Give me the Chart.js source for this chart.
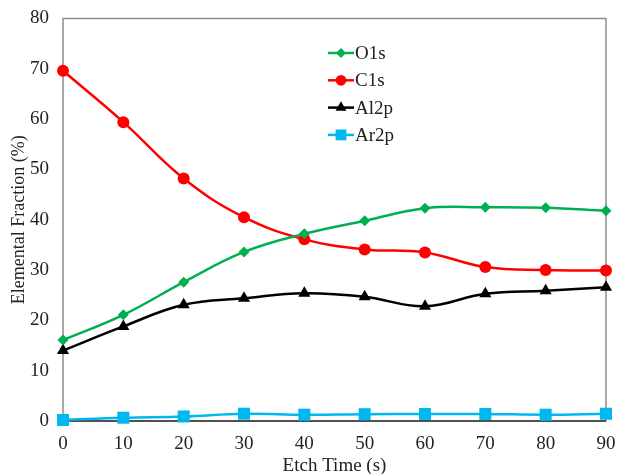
<!DOCTYPE html>
<html>
<head>
<meta charset="utf-8">
<script src="https://cdn.jsdelivr.net/npm/chart.js@4.4.1/dist/chart.umd.min.js"></script>
<style>
  html, body { margin: 0; padding: 0; background: #fff; }
  #wrap { width: 617px; height: 474px; }
</style>
</head>
<body>
<div id="wrap"><canvas id="xps"></canvas></div>
<script>
const etchTime = [0, 10, 20, 30, 40, 50, 60, 70, 80, 90];
const o1s  = [16.1, 21.1, 27.6, 33.6, 37.2, 39.8, 42.3, 42.5, 42.4, 41.8];
const c1s  = [69.6, 59.4, 48.2, 40.5, 36.1, 34.1, 33.5, 30.6, 30.0, 29.9];
const al2p = [14.0, 18.8, 23.1, 24.4, 25.4, 24.7, 22.8, 25.3, 25.9, 26.6];
const ar2p = [0.2, 0.65, 0.9, 1.45, 1.25, 1.35, 1.4, 1.4, 1.25, 1.45];
const yTicks = [0, 10, 20, 30, 40, 50, 60, 70, 80];

const serif = '"Liberation Serif", "Times New Roman", serif';

function pts(vals) {
    return etchTime.map((t, i) => ({ x: t, y: vals[i] }));
}

function series(label, vals, color, style, r) {
    return {
        label: label,
        data: pts(vals),
        borderColor: color,
        backgroundColor: color,
        borderWidth: 2.5,
        pointStyle: style,
        pointRadius: r,
        pointBorderWidth: 0,
        tension: 0.4,
        clip: false
    };
}

// no automatic room for overhanging tick labels; the padding below sets the plot box
function noOverhang(s) {
    s.paddingTop = 0;
    s.paddingBottom = 0;
    s.paddingLeft = 0;
    s.paddingRight = 0;
}

// legend drawn inside the plot, like the original figure
const innerLegend = {
    id: 'innerLegend',
    afterDraw(chart) {
        const ctx = chart.ctx;
        const x0 = 328, y0 = 53, gap = 27.3;
        chart.data.datasets.forEach((ds, i) => {
            const y = y0 + i * gap;
            ctx.save();
            ctx.strokeStyle = ds.borderColor;
            ctx.lineWidth = 2.5;
            ctx.beginPath();
            ctx.moveTo(x0, y);
            ctx.lineTo(x0 + 26, y);
            ctx.stroke();
            ctx.fillStyle = ds.backgroundColor;
            Chart.helpers.drawPoint(ctx, { pointStyle: ds.pointStyle, radius: ds.pointRadius * 0.9, borderWidth: 0 }, x0 + 13, y);
            ctx.fillStyle = '#222';
            ctx.font = '19px ' + serif;
            ctx.textBaseline = 'middle';
            ctx.fillText(ds.label, x0 + 27, y + 1);
            ctx.restore();
        });
    }
};

const frame = {
    id: 'frame',
    beforeDatasetsDraw(chart) {
        const a = chart.chartArea;
        const ctx = chart.ctx;
        ctx.save();
        ctx.strokeStyle = '#8c8c8c';
        ctx.lineWidth = 1.5;
        ctx.strokeRect(a.left, a.top, a.right - a.left, a.bottom - a.top);
        // bottom axis is darker than the rest of the box
        ctx.strokeStyle = '#333';
        ctx.beginPath();
        ctx.moveTo(a.left, a.bottom);
        ctx.lineTo(a.right, a.bottom);
        ctx.stroke();
        ctx.restore();
    }
};

new Chart(document.getElementById('xps'), {
    type: 'line',
    data: {
        datasets: [
            series('O1s', o1s, '#00b050', 'rectRot', 5.5),
            series('C1s', c1s, '#ff0000', 'circle', 6),
            series('Al2p', al2p, '#000000', 'triangle', 7),
            series('Ar2p', ar2p, '#00b8f0', 'rect', 8.5)
        ]
    },
    options: {
        responsive: true,
        maintainAspectRatio: false,
        animation: false,
        layout: { padding: { top: 18.5, right: 11, left: 0, bottom: 0 } },
        plugins: {
            legend: { display: false },
            tooltip: { enabled: false }
        },
        scales: {
            x: {
                type: 'linear',
                min: 0,
                max: 90,
                afterFit: (s) => { s.height = 53; noOverhang(s); },
                afterBuildTicks: (s) => { s.ticks = etchTime.map(v => ({ value: v })); },
                grid: { display: false, drawTicks: false },
                border: { display: false },
                ticks: { color: '#222', font: { family: serif, size: 19 }, padding: 12 },
                title: { display: true, text: 'Etch Time (s)', color: '#222', font: { family: serif, size: 19, lineHeight: 0.8 }, padding: { top: 2, bottom: 0 } }
            },
            y: {
                min: 0,
                max: 80,
                afterFit: (s) => { s.width = 63; noOverhang(s); },
                afterBuildTicks: (s) => { s.ticks = yTicks.map(v => ({ value: v })); },
                grid: { display: false, drawTicks: false },
                border: { display: false },
                ticks: { color: '#222', font: { family: serif, size: 19 }, padding: 14 },
                title: { display: true, text: 'Elemental Fraction (%)', color: '#222', font: { family: serif, size: 18 }, padding: { top: 8, bottom: 0 } }
            }
        }
    },
    plugins: [frame, innerLegend]
});
</script>
</body>
</html>
